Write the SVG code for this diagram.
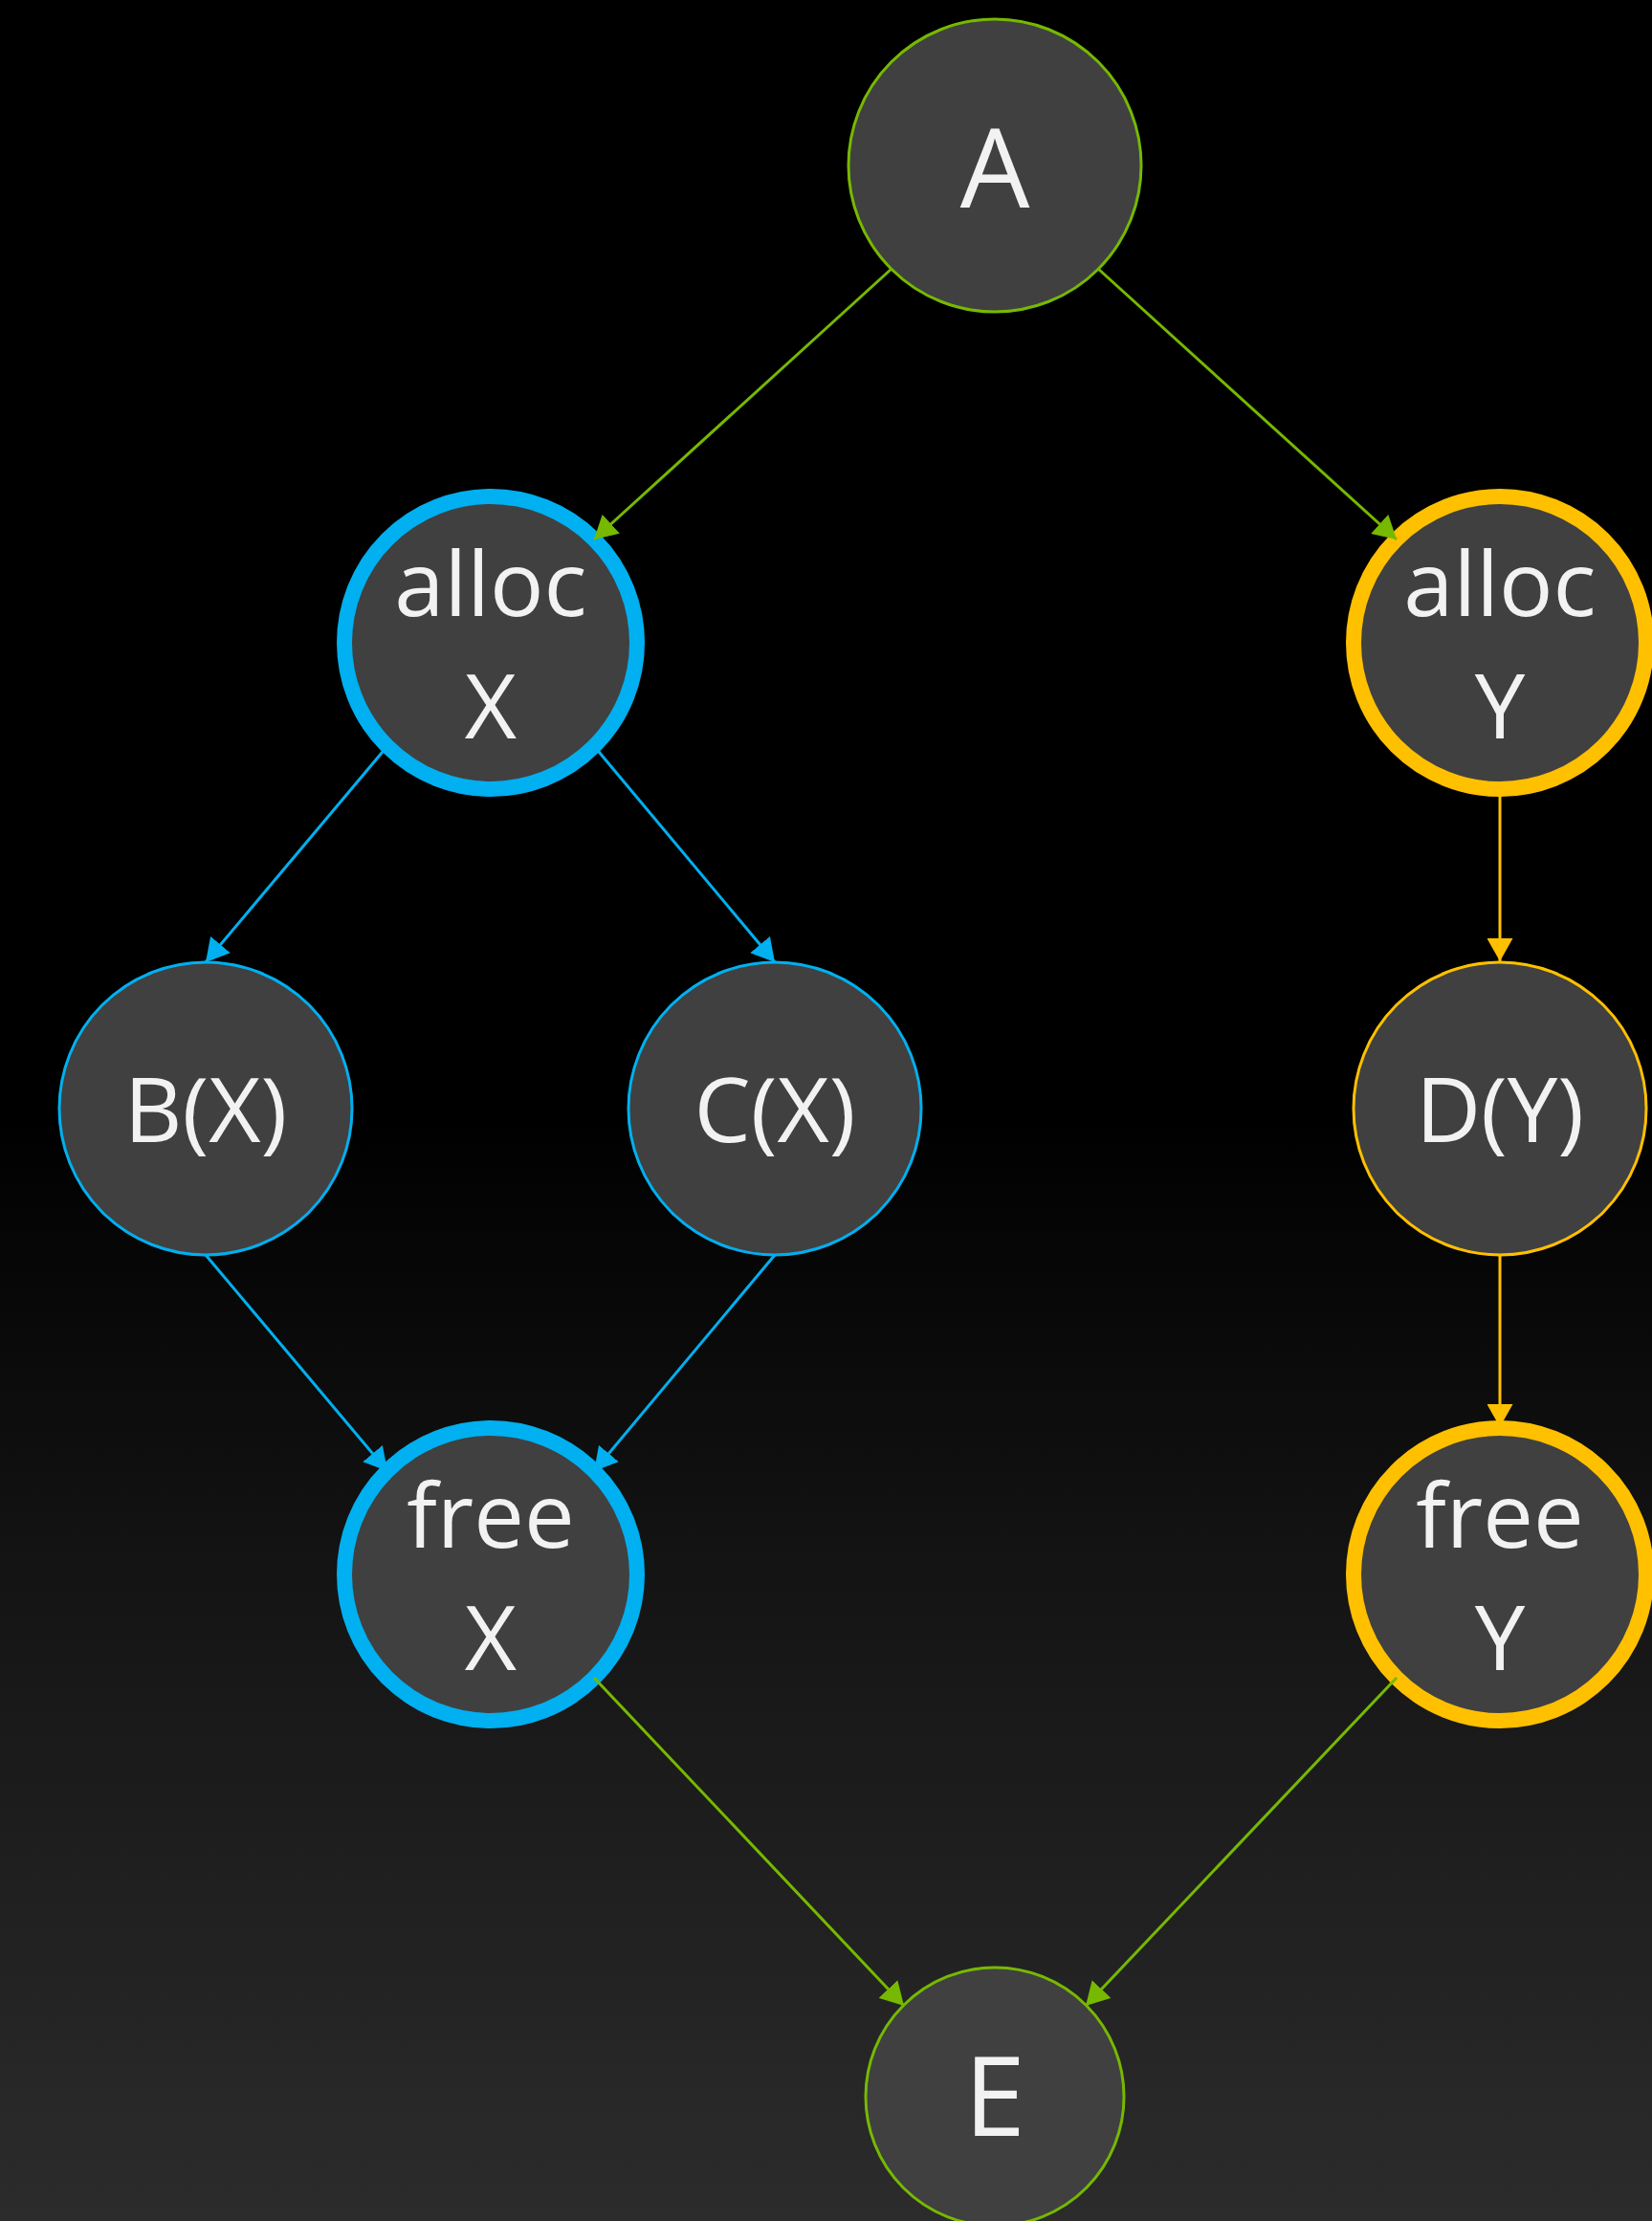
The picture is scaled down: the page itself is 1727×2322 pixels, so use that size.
<svg xmlns="http://www.w3.org/2000/svg" width="1727" height="2322" viewBox="0 0 1727 2322">
  <style>
    .node { fill: #404040; }
    .thin { stroke-width: 3; }
    .thick { stroke-width: 16; }
    .green { stroke: #76b900; }
    .blue { stroke: #00b0f0; }
    .gold { stroke: #ffc000; }
    .label { font-family: "Open Sans", "Noto Sans", sans-serif; fill: #f2f2f2; text-anchor: middle; }
    .big { font-size: 115px; }
    .mid { font-size: 94px; }
    .edge { fill: none; stroke-width: 3; }
  </style>
  <defs>
    <linearGradient id="bg" x1="0" y1="0" x2="0" y2="1">
      <stop offset="0" stop-color="#000000"/>
      <stop offset="0.5" stop-color="#000000"/>
      <stop offset="0.72" stop-color="#151515"/>
      <stop offset="1" stop-color="#2c2c2c"/>
    </linearGradient>
    <marker id="arrow-green" viewBox="0 0 24 27" refX="24" refY="13.5" markerWidth="24" markerHeight="27" markerUnits="userSpaceOnUse" orient="auto">
      <path d="M0,0 L24,13.5 L0,27 z" fill="#76b900"/>
    </marker>
    <marker id="arrow-blue" viewBox="0 0 24 27" refX="24" refY="13.5" markerWidth="24" markerHeight="27" markerUnits="userSpaceOnUse" orient="auto">
      <path d="M0,0 L24,13.5 L0,27 z" fill="#00b0f0"/>
    </marker>
    <marker id="arrow-gold" viewBox="0 0 24 27" refX="24" refY="13.5" markerWidth="24" markerHeight="27" markerUnits="userSpaceOnUse" orient="auto">
      <path d="M0,0 L24,13.5 L0,27 z" fill="#ffc000"/>
    </marker>
  </defs>

  <rect x="0" y="0" width="1727" height="2322" fill="url(#bg)"/>

  <!-- nodes -->
  <g id="node-A">
    <circle class="node thin green" cx="1040" cy="173" r="153"/>
    <text class="label big" x="1040" y="217">A</text>
  </g>
  <g id="node-allocX">
    <circle class="node thick blue" cx="513" cy="672" r="153"/>
    <text class="label mid" x="513" y="644">alloc</text>
    <text class="label mid" x="513" y="772">X</text>
  </g>
  <g id="node-allocY">
    <circle class="node thick gold" cx="1568" cy="672" r="153"/>
    <text class="label mid" x="1568" y="644">alloc</text>
    <text class="label mid" x="1568" y="772">Y</text>
  </g>
  <g id="node-B">
    <circle class="node thin blue" cx="215" cy="1159" r="153"/>
    <text class="label mid" x="215" y="1194">B(X)</text>
  </g>
  <g id="node-C">
    <circle class="node thin blue" cx="810" cy="1159" r="153"/>
    <text class="label mid" x="810" y="1194">C(X)</text>
  </g>
  <g id="node-D">
    <circle class="node thin gold" cx="1568" cy="1159" r="153"/>
    <text class="label mid" x="1568" y="1194">D(Y)</text>
  </g>
  <g id="node-freeX">
    <circle class="node thick blue" cx="513" cy="1646" r="153"/>
    <text class="label mid" x="513" y="1618">free</text>
    <text class="label mid" x="513" y="1746">X</text>
  </g>
  <g id="node-freeY">
    <circle class="node thick gold" cx="1568" cy="1646" r="153"/>
    <text class="label mid" x="1568" y="1618">free</text>
    <text class="label mid" x="1568" y="1746">Y</text>
  </g>
  <g id="node-E">
    <circle class="node thin green" cx="1040" cy="2192" r="135"/>
    <text class="label big" x="1040" y="2233">E</text>
  </g>

  <!-- connectors, attached at the 45-degree points of each circle -->
  <g id="connectors">
    <line class="edge green" x1="932" y1="281" x2="621" y2="564" marker-end="url(#arrow-green)"/>
    <line class="edge green" x1="1148" y1="281" x2="1460" y2="564" marker-end="url(#arrow-green)"/>
    <line class="edge blue" x1="405" y1="780" x2="215" y2="1006" marker-end="url(#arrow-blue)"/>
    <line class="edge blue" x1="621" y1="780" x2="810" y2="1006" marker-end="url(#arrow-blue)"/>
    <line class="edge gold" x1="1568" y1="825" x2="1568" y2="1005" marker-end="url(#arrow-gold)"/>
    <line class="edge blue" x1="215" y1="1312" x2="405" y2="1538" marker-end="url(#arrow-blue)"/>
    <line class="edge blue" x1="810" y1="1312" x2="621" y2="1538" marker-end="url(#arrow-blue)"/>
    <line class="edge gold" x1="1568" y1="1312" x2="1568" y2="1492" marker-end="url(#arrow-gold)"/>
    <line class="edge green" x1="621" y1="1754" x2="945" y2="2097" marker-end="url(#arrow-green)"/>
    <line class="edge green" x1="1460" y1="1754" x2="1135" y2="2097" marker-end="url(#arrow-green)"/>
  </g>
</svg>
